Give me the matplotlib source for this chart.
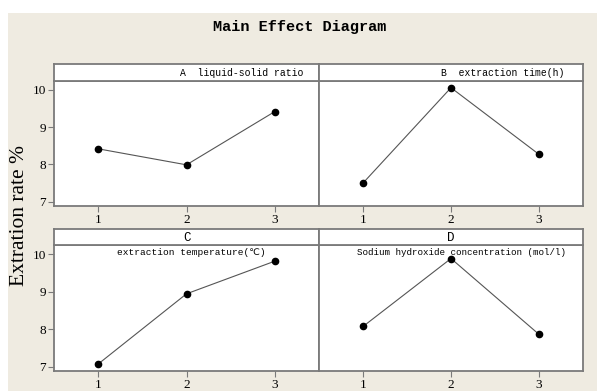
import matplotlib
matplotlib.use('Agg')
import matplotlib.pyplot as plt
from matplotlib.patches import Rectangle

# levels and mean extraction rate for each factor
levels = [1, 2, 3]
rate_a = [8.42, 7.99, 9.42]
rate_b = [7.50, 10.06, 8.27]
rate_c = [7.07, 8.94, 9.81]
rate_d = [8.07, 9.88, 7.86]

W, H = 597, 391
fig = plt.figure(figsize=(W / 100, H / 100), dpi=100, facecolor='white')

# beige panel behind everything
fig.patches.append(Rectangle((8 / W, 0), 1 - 8 / W, 1 - 13 / H, transform=fig.transFigure,
                             facecolor='#efebe1', edgecolor='none', zorder=-10))

edge = '#7a7a7a'
mono = ['Liberation Mono', 'DejaVu Sans']
serif = 'Liberation Serif'


def box(x0, x1, y0, y1):
    # pixel box -> figure fraction rect
    return [x0 / W, 1 - y1 / H, (x1 - x0) / W, (y1 - y0) / H]


def panel(x0, x1, top, strip_bot, bot, values, show_y):
    ax = fig.add_axes(box(x0, x1, strip_bot, bot))
    ax.set_facecolor('white')
    ax.plot(levels, values, color='#555555', lw=0.8, marker='o', ms=4.5,
            mfc='black', mec='black')
    ax.set_xlim(0.5, 3.5)
    ax.set_ylim(6.885, 10.24)
    ax.set_xticks(levels)
    ax.set_yticks([7, 8, 9, 10])
    ax.tick_params(direction='out', length=4, width=0.8, color=edge, labelsize=9.5, pad=2)
    for lab in ax.get_xticklabels() + ax.get_yticklabels():
        lab.set_fontfamily(serif)
    if not show_y:
        ax.tick_params(axis='y', left=False, labelleft=False)
    for s in ax.spines.values():
        s.set_color(edge)
        s.set_linewidth(1.3)

    st = fig.add_axes(box(x0, x1, top, strip_bot))
    st.set_facecolor('white')
    st.set_xticks([])
    st.set_yticks([])
    for s in st.spines.values():
        s.set_color(edge)
        s.set_linewidth(1.3)
    return ax, st


axA, stA = panel(54, 319, 64, 81, 206, rate_a, True)
axB, stB = panel(319, 583, 64, 81, 206, rate_b, False)
axC, stC = panel(54, 319, 229, 245, 371, rate_c, True)
axD, stD = panel(319, 583, 229, 245, 371, rate_d, False)

stA.text(0.94, 0.45, 'A  liquid-solid ratio', ha='right', va='center',
         fontsize=7, family=mono, transform=stA.transAxes)
stB.text(0.93, 0.45, 'B  extraction time(h)', ha='right', va='center',
         fontsize=7, family=mono, transform=stB.transAxes)
stC.text(0.5, 0.45, 'C', ha='center', va='center', fontsize=9, family=mono,
         transform=stC.transAxes)
stD.text(0.5, 0.45, 'D', ha='center', va='center', fontsize=9, family=mono,
         transform=stD.transAxes)
axC.text(0.52, 0.94, 'extraction temperature(℃)', ha='center', va='center',
         fontsize=6.8, family=mono, transform=axC.transAxes)
axD.text(0.54, 0.94, 'Sodium hydroxide concentration (mol/l)', ha='center', va='center',
         fontsize=6.6, family=mono, transform=axD.transAxes)

fig.text(299.5 / W, 1 - 27 / H, 'Main Effect Diagram', ha='center', va='center',
         fontsize=11, family=mono, fontweight='bold')
fig.text(20 / W, 1 - 216 / H, 'Extration rate %', ha='center', va='center',
         rotation=90, fontsize=15.5, family=serif)

fig.savefig('out.png', dpi=100, facecolor=fig.get_facecolor())
